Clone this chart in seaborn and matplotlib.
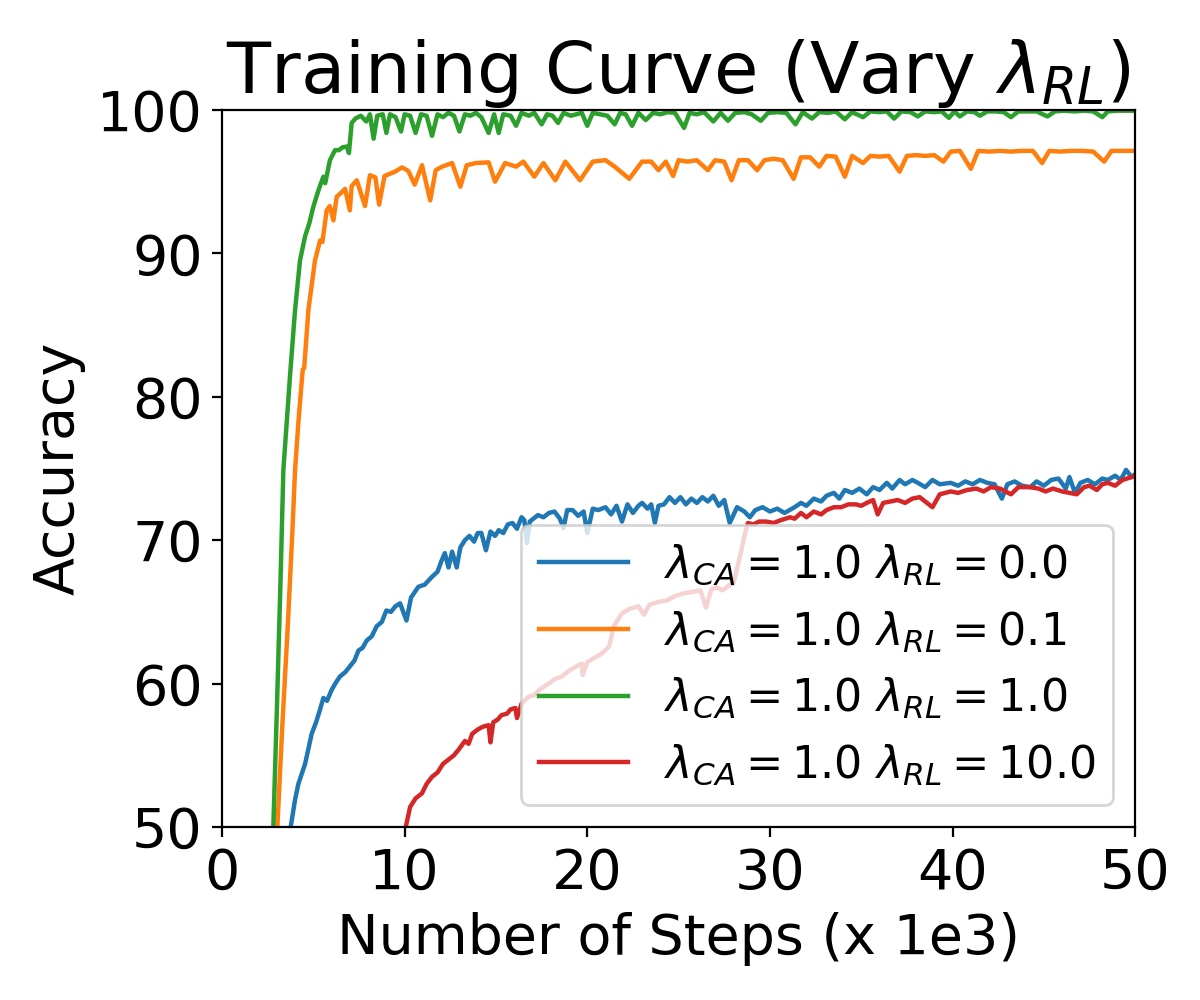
import matplotlib
matplotlib.use("Agg")
import matplotlib.pyplot as plt
import seaborn as sns
import pandas as pd

# ---- data (x in 1e3 steps, accuracy %) ----
green_x = [2.6, 2.81, 3.0, 3.2, 3.36, 3.72, 4.0, 4.27, 4.55, 4.78, 5.0, 5.28, 5.55, 5.65, 5.91, 6.19, 6.4, 6.6, 6.83, 6.95,
           7.1, 7.3, 7.6, 7.9, 8.1, 8.3, 8.5, 8.8, 9.0, 9.2, 9.5, 9.8, 10.0, 10.3, 10.6, 10.9, 11.2, 11.5, 11.8, 12.1,
           12.4, 12.7, 13.0, 13.3, 13.6, 13.9, 14.2, 14.6, 14.9, 15.15, 15.4, 15.8, 16.1, 16.4, 16.8, 17.1, 17.5, 17.8,
           18.1, 18.4, 18.7, 19.1, 19.4, 19.7, 20.0, 20.3, 20.7, 21.1, 21.5, 21.8, 22.1, 22.45, 22.8, 23.2, 23.6, 24.0,
           24.4, 24.8, 25.3, 25.6, 26.0, 26.4, 26.9, 27.3, 27.7, 28.1, 28.6, 29.0, 29.5, 29.9, 30.4, 30.9, 31.4, 31.8,
           32.3, 32.7, 33.2, 33.6, 34.1, 34.5, 35.1, 35.5, 36.0, 36.4, 36.8, 37.2, 37.7, 38.1, 38.5, 39.0, 39.4, 39.8,
           40.1, 40.4, 40.8, 41.2, 41.5, 41.9, 42.4, 42.8, 43.2, 43.6, 44.1, 44.6, 45.2, 45.6, 46.1, 46.7, 47.2, 47.7,
           48.2, 48.5, 49.0, 49.5, 50.0]
green_y = [47.0, 50.0, 58.0, 67.0, 74.9, 81.4, 86.05, 89.5, 91.2, 92.1, 93.25, 94.4, 95.35, 94.9, 96.5, 97.2, 97.2, 97.4, 97.45, 97.0,
           99.1, 99.4, 99.6, 99.2, 99.7, 98.0, 99.6, 99.7, 98.4, 99.7, 99.5, 98.5, 99.7, 99.6, 98.4, 99.7, 99.6, 98.2, 99.7, 99.5,
           99.8, 99.6, 98.5, 99.7, 99.6, 99.8, 99.5, 98.4, 99.7, 98.4, 99.7, 99.6, 98.9, 99.8, 99.6, 99.8, 99.0, 99.7,
           99.6, 99.1, 99.8, 99.6, 99.7, 99.8, 98.9, 99.8, 99.7, 99.6, 99.0, 99.8, 99.7, 98.9, 99.8, 99.3, 99.8, 99.7,
           99.85, 99.8, 98.75, 99.8, 99.7, 99.85, 99.2, 99.8, 99.25, 99.8, 99.85, 99.7, 99.25, 99.8, 99.85, 99.8, 99.0, 99.85,
           99.4, 99.85, 99.8, 99.9, 99.35, 99.85, 99.5, 99.9, 99.85, 99.9, 99.4, 99.9, 99.85, 99.55, 99.9, 99.85, 99.9, 99.45,
           99.9, 99.55, 99.9, 99.85, 99.6, 99.9, 99.9, 99.85, 99.5, 99.9, 99.9, 99.9, 99.55, 99.9, 99.95, 99.9, 99.95, 99.9,
           99.5, 99.9, 99.95, 99.95, 99.95]

orange_x = [2.85, 3.03, 3.3, 3.6, 3.85, 4.0, 4.2, 4.42, 4.5, 4.73, 5.09, 5.37, 5.5, 5.73, 5.9, 6.1, 6.28, 6.5, 6.74,
            7.0, 7.1, 7.38, 7.83, 8.1, 8.4, 8.6, 8.9, 9.47, 9.86, 10.2, 10.55, 10.95, 11.4, 11.7, 12.05, 12.6, 13.05,
            13.4, 13.9, 14.6, 14.95, 15.5, 16.1, 16.5, 17.1, 17.6, 18.25, 18.8, 19.6, 20.3, 21.0, 21.5, 22.3, 23.0, 23.5,
            23.9, 24.3, 24.7, 25.0, 25.5, 26.0, 26.6, 27.0, 27.5, 27.9, 28.3, 28.8, 29.3, 29.7, 30.2, 30.7, 31.3, 31.7,
            32.2, 32.7, 33.1, 33.6, 34.1, 34.5, 35.1, 35.5, 36.0, 36.5, 37.1, 37.5, 38.0, 38.5, 39.0, 39.5, 39.9, 40.4,
            41.0, 41.4, 42.0, 42.6, 43.2, 43.8, 44.4, 44.9, 45.3, 45.9, 46.5, 47.1, 47.7, 48.3, 48.7, 49.3, 50.0]
orange_y = [47.0, 50.0, 57.0, 64.0, 70.5, 74.9, 78.5, 81.9, 82.0, 86.05, 89.5, 90.9, 90.8, 93.0, 93.3, 92.3, 93.95, 94.2, 94.5,
            93.0, 94.7, 95.1, 93.3, 95.45, 95.3, 93.4, 95.4, 95.7, 96.0, 95.75, 94.8, 96.15, 93.7, 95.8, 96.05, 96.3, 94.65,
            96.15, 96.3, 96.35, 95.0, 96.3, 96.05, 96.4, 95.35, 96.3, 95.1, 96.4, 95.1, 96.4, 96.5, 96.05, 95.2, 96.4, 96.4,
            95.8, 96.4, 95.4, 96.5, 96.4, 96.5, 95.8, 96.5, 96.4, 95.1, 96.5, 96.5, 95.8, 96.5, 96.6, 96.5, 95.2, 96.7,
            96.7, 96.05, 96.8, 96.75, 95.35, 96.8, 96.3, 96.8, 96.75, 96.8, 95.7, 96.8, 96.85, 96.8, 96.85, 96.4, 97.1, 97.15,
            95.9, 97.15, 97.1, 97.15, 97.1, 97.15, 97.15, 96.3, 97.15, 97.1, 97.15, 97.15, 97.1, 96.4, 97.15, 97.15, 97.15]

blue_x = [3.55, 3.76, 4.0, 4.18, 4.55, 4.91, 5.15, 5.37, 5.55, 5.75, 6.0, 6.2, 6.46, 6.75, 7.0, 7.25, 7.47, 7.7, 7.92, 8.2,
          8.47, 8.75, 9.0, 9.25, 9.5, 9.75, 10.1, 10.35, 10.75, 11.1, 11.5, 11.8, 12.0, 12.2, 12.4, 12.6, 12.85, 13.05,
          13.3, 13.55, 13.8, 14.0, 14.2, 14.45, 14.7, 14.95, 15.15, 15.4, 15.65, 15.9, 16.15, 16.4, 16.55, 16.7, 16.85,
          17.05, 17.3, 17.6, 17.9, 18.2, 18.5, 18.7, 18.9, 19.2, 19.5, 19.8, 20.0, 20.3, 20.6, 21.0, 21.3, 21.6, 21.9,
          22.2, 22.5, 22.8, 23.0, 23.3, 23.5, 23.7, 23.9, 24.2, 24.5, 24.8, 25.1, 25.4, 25.7, 26.0, 26.3, 26.6, 26.9,
          27.2, 27.5, 27.8, 28.2, 28.6, 28.9, 29.2, 29.6, 30.0, 30.4, 30.8, 31.35, 31.7, 32.0, 32.4, 32.8, 33.1, 33.5,
          33.8, 34.1, 34.5, 34.9, 35.3, 35.65, 36.0, 36.4, 36.7, 37.1, 37.4, 37.8, 38.1, 38.5, 38.9, 39.3, 39.9, 40.3,
          40.7, 41.1, 41.5, 41.9, 42.3, 42.7, 43.0, 43.4, 43.8, 44.25, 44.6, 45.0, 45.4, 45.8, 46.2, 46.4, 46.7, 47.0,
          47.4, 47.8, 48.2, 48.5, 48.9, 49.2, 49.5, 49.8, 50.0]
blue_y = [48.0, 50.0, 51.9, 53.0, 54.4, 56.5, 57.3, 58.2, 59.0, 58.8, 59.55, 60.0, 60.5, 60.8, 61.2, 61.6, 62.3, 62.5, 63.0, 63.3,
          64.0, 64.3, 65.1, 65.0, 65.4, 65.6, 64.4, 66.0, 66.75, 66.9, 67.45, 67.8, 68.5, 69.1, 68.1, 69.2, 68.1, 69.5,
          70.0, 70.3, 69.9, 70.5, 70.5, 69.3, 70.6, 70.3, 70.7, 70.5, 71.1, 71.2, 70.8, 71.6, 71.4, 69.8, 71.3,
          71.5, 71.75, 71.6, 71.9, 72.0, 71.5, 70.85, 72.1, 72.1, 71.7, 72.0, 70.5, 72.2, 72.1, 72.3, 71.8, 72.4, 71.3,
          72.5, 71.9, 72.4, 72.6, 72.2, 72.5, 71.2, 72.4, 72.5, 73.0, 72.6, 73.0, 72.5, 72.9, 72.6, 73.0, 72.7, 73.1,
          72.4, 72.8, 71.2, 72.3, 72.0, 71.6, 72.1, 72.3, 72.0, 72.2, 71.9, 72.3, 72.6, 72.4, 72.9, 72.7, 73.1, 73.3,
          72.9, 73.5, 73.3, 73.6, 73.2, 73.7, 73.5, 74.0, 73.6, 74.2, 73.9, 74.2, 74.0, 73.7, 74.2, 73.9, 74.0, 73.8,
          74.1, 73.9, 74.2, 74.0, 73.9, 72.9, 73.9, 74.1, 73.8, 73.7, 74.1, 73.8, 74.2, 74.3, 73.6, 74.4, 73.3, 74.0,
          74.2, 73.9, 74.3, 74.2, 74.5, 74.2, 74.9, 74.4, 74.6]

red_x = [9.9, 10.06, 10.3, 10.6, 10.95, 11.2, 11.5, 11.8, 12.1, 12.4, 12.7, 12.96, 13.3, 13.5, 13.7, 14.0, 14.3, 14.6, 14.7,
         14.85, 15.1, 15.3, 15.6, 15.8, 16.06, 16.15, 16.4, 16.8, 17.1, 17.4, 17.9, 18.2, 18.6, 19.0, 19.4, 19.7, 19.75,
         20.0, 20.4, 20.8, 21.2, 21.45, 21.7, 21.9, 22.3, 22.8, 23.1, 23.4, 23.9, 24.35, 24.8, 25.3, 25.8, 26.2, 26.5,
         26.8, 27.1, 27.4, 27.7, 28.0, 28.2, 28.4, 28.6, 28.8, 29.1, 29.4, 29.8, 30.2, 30.6, 31.1, 31.35, 31.7, 32.0,
         32.4, 32.8, 33.1, 33.5, 33.9, 34.3, 34.7, 35.0, 35.3, 35.65, 35.9, 36.2, 36.6, 37.0, 37.4, 37.8, 38.2, 38.9,
         39.3, 39.9, 40.3, 40.8, 41.3, 41.7, 42.1, 42.6, 43.2, 43.6, 44.25, 44.7, 45.1, 45.5, 46.0, 46.4, 46.8, 47.2,
         47.5, 47.9, 48.2, 48.5, 48.9, 49.3, 49.8, 50.0]
red_y = [48.0, 50.0, 51.4, 52.0, 52.35, 53.0, 53.5, 53.8, 54.4, 54.7, 55.0, 55.4, 56.0, 55.8, 56.5, 56.8, 57.0, 57.1, 55.9,
         57.3, 57.5, 57.8, 57.9, 58.2, 58.3, 57.6, 58.6, 59.1, 59.2, 59.6, 60.0, 60.3, 60.5, 60.9, 61.2, 61.4, 60.6,
         61.5, 61.8, 62.1, 62.6, 64.0, 64.5, 64.9, 65.2, 65.4, 64.8, 65.5, 65.7, 65.8, 66.1, 66.3, 66.4, 66.5, 65.3,
         66.6, 66.7, 66.5, 66.8, 67.0, 68.0, 69.1, 70.3, 71.2, 71.1, 71.3, 71.3, 71.2, 71.4, 71.6, 71.5, 71.9, 71.6,
         72.0, 71.8, 72.1, 72.3, 72.3, 72.5, 72.5, 72.4, 72.6, 72.8, 71.8, 72.6, 72.7, 72.8, 72.6, 72.9, 73.0, 72.3,
         73.2, 73.4, 73.3, 73.5, 73.6, 73.4, 73.7, 73.6, 73.2, 73.7, 73.7, 73.6, 73.4, 73.6, 73.4, 73.3, 73.2, 73.7,
         73.8, 73.5, 73.9, 74.0, 73.8, 74.2, 74.4, 74.5]

labels = [r"$\lambda_{CA}=1.0\ \lambda_{RL}=0.0$",
          r"$\lambda_{CA}=1.0\ \lambda_{RL}=0.1$",
          r"$\lambda_{CA}=1.0\ \lambda_{RL}=1.0$",
          r"$\lambda_{CA}=1.0\ \lambda_{RL}=10.0$"]
colors = ["#1f77b4", "#ff7f0e", "#2ca02c", "#d62728"]
xticks = [0, 10, 20, 30, 40, 50]
yticks = [50, 60, 70, 80, 90, 100]

series = [(blue_x, blue_y), (orange_x, orange_y), (green_x, green_y), (red_x, red_y)]

fig = plt.figure(figsize=(6, 5), dpi=200)
ax = fig.add_axes([0.185, 0.173, 0.761, 0.717])
for (sx, sy), lab, col in zip(series, labels, colors):
    df = pd.DataFrame({"step": sx, "acc": sy})
    sns.lineplot(data=df, x="step", y="acc", ax=ax, label=lab, color=col,
                 linewidth=1.6, estimator=None, sort=False)

ax.set_xlim(0, 50)
ax.set_ylim(50, 100)
ax.set_xticks(xticks)
ax.set_yticks(yticks)
ax.tick_params(labelsize=20)
ax.set_xlabel("Number of Steps (x 1e3)", fontsize=20)
ax.set_ylabel("Accuracy", fontsize=20)
ax.set_title(r"Training Curve (Vary $\lambda_{RL}$)", fontsize=26, pad=4)
ax.legend(loc="lower right", fontsize=16)

fig.savefig("out.png", dpi=200)
